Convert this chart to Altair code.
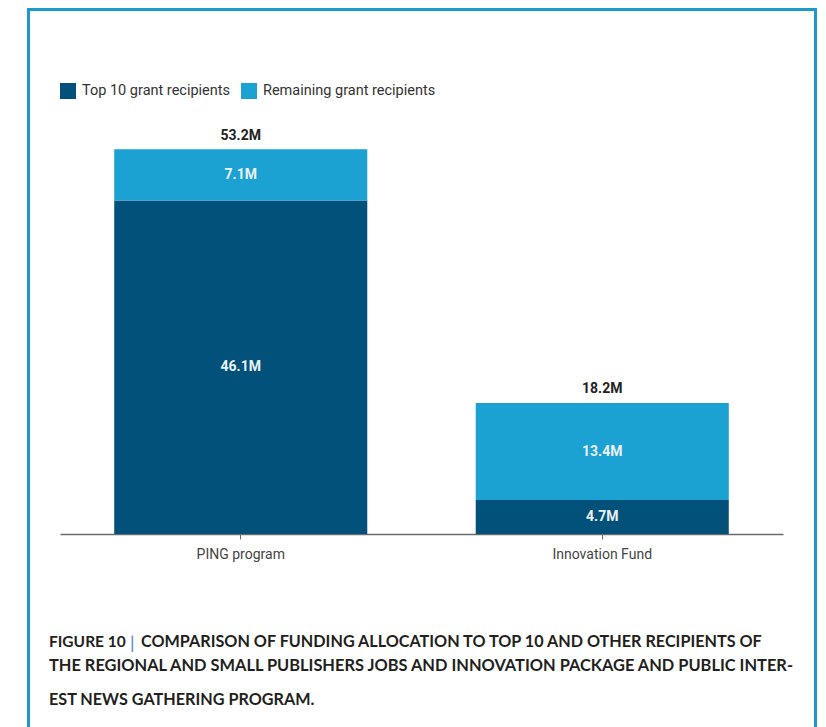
import altair as alt
import pandas as pd

# ---- data ----
programs = ["PING program", "Innovation Fund"]
series = ["Top 10 grant recipients", "Remaining grant recipients"]
top10 = [46.1, 4.7]
remaining = [7.1, 13.4]
totals = [53.2, 18.2]
seg_labels_top10 = ["46.1M", "4.7M"]
seg_labels_rem = ["7.1M", "13.4M"]
total_labels = ["53.2M", "18.2M"]

caption_lines = [
    "COMPARISON OF FUNDING ALLOCATION TO TOP 10 AND OTHER RECIPIENTS OF",
    "THE REGIONAL AND SMALL PUBLISHERS JOBS AND INNOVATION PACKAGE AND PUBLIC INTER-",
    "EST NEWS GATHERING PROGRAM.",
]

DARK = "#02517B"
LIGHT = "#1BA1D2"
BORDER = "#1E98CF"

rows = []
for i, p in enumerate(programs):
    base = 0.0
    for j, (s, vals, labs) in enumerate(
        [(series[0], top10, seg_labels_top10), (series[1], remaining, seg_labels_rem)]
    ):
        v = vals[i]
        rows.append(dict(program=p, series=s, order=j, value=v,
                         mid=base + v / 2, label=labs[i]))
        base += v
seg = pd.DataFrame(rows)
tot = pd.DataFrame(dict(program=programs, total=totals, label=total_labels))

W, H = 723, 434
ydom = [0, 60]

xenc = alt.X("program:N", sort=programs, title=None,
             scale=alt.Scale(paddingInner=0.3, paddingOuter=0.15),
             axis=alt.Axis(labelAngle=0, domainColor="#6b6b6b", domainWidth=1.5,
                           tickColor="#6b6b6b", tickSize=5, tickWidth=1,
                           labelFont="Roboto", labelFontSize=14, labelColor="#444444",
                           labelPadding=8))

bars = alt.Chart(seg).mark_bar().encode(
    x=xenc,
    y=alt.Y("sum(value):Q", stack="zero", scale=alt.Scale(domain=ydom), axis=None),
    color=alt.Color("series:N", sort=series,
                    scale=alt.Scale(domain=series, range=[DARK, LIGHT]),
                    legend=alt.Legend(title=None, orient="none", legendX=0, legendY=-17,
                                      direction="horizontal", symbolType="square",
                                      symbolSize=256, symbolStrokeWidth=0,
                                      symbolOpacity=1, labelFont="Roboto",
                                      labelFontSize=14.5, labelColor="#333333",
                                      labelLimit=400,
                                      labelOffset=6, columnPadding=10)),
    order=alt.Order("order:Q"),
)

seg_text = alt.Chart(seg).mark_text(
    font="Roboto", fontSize=14, fontWeight="bold", color="#EAF1F5", baseline="middle"
).encode(
    x=alt.X("program:N", sort=programs),
    y=alt.Y("mid:Q", scale=alt.Scale(domain=ydom)),
    text="label:N",
)

tot_text = alt.Chart(tot).mark_text(
    font="Roboto", fontSize=14, fontWeight="bold", color="#222222",
    baseline="bottom", dy=-6
).encode(
    x=alt.X("program:N", sort=programs),
    y=alt.Y("total:Q", scale=alt.Scale(domain=ydom)),
    text="label:N",
)

one = alt.Data(values=[{}])
LEFT, TOP = 60, 100

border = alt.Chart(one).mark_rect(fill=None, stroke=BORDER, strokeWidth=3).encode(
    x=alt.value(28.5 - LEFT), x2=alt.value(815.5 - LEFT),
    y=alt.value(9.5 - TOP), y2=alt.value(760 - TOP),
)

cap_style = dict(font="Lato", fontSize=16.2, fontWeight="bold", color="#231F20",
                 align="left", baseline="alphabetic")
cap_fig = alt.Chart(one).mark_text(**{**cap_style, "fontSize": 15.5}).encode(
    x=alt.value(49 - LEFT), y=alt.value(647 - TOP), text=alt.value("FIGURE 10"))
cap_bar = alt.Chart(one).mark_text(**{**cap_style, "color": "#4A7FD4",
                                      "fontWeight": "normal", "fontSize": 18}).encode(
    x=alt.value(130 - LEFT), y=alt.value(649 - TOP), text=alt.value("|"))
cap1 = alt.Chart(one).mark_text(**cap_style).encode(
    x=alt.value(141 - LEFT), y=alt.value(647 - TOP), text=alt.value(caption_lines[0]))
cap2 = alt.Chart(one).mark_text(**{**cap_style, "fontSize": 16.4}).encode(
    x=alt.value(49 - LEFT), y=alt.value(671 - TOP), text=alt.value(caption_lines[1]))
cap3 = alt.Chart(one).mark_text(**cap_style).encode(
    x=alt.value(49 - LEFT), y=alt.value(705 - TOP), text=alt.value(caption_lines[2]))

chart = alt.layer(
    border, bars, seg_text, tot_text, cap_fig, cap_bar, cap1, cap2, cap3
).properties(
    width=W, height=H,
    padding={"left": LEFT, "top": TOP, "right": 826 - LEFT - W, "bottom": 727 - TOP - H},
    autosize=alt.AutoSizeParams(type="none"),
    background="white",
).configure_view(stroke=None).configure_axisY(grid=False)

chart.save("out.html", embed_options={"renderer": "svg", "actions": False})
